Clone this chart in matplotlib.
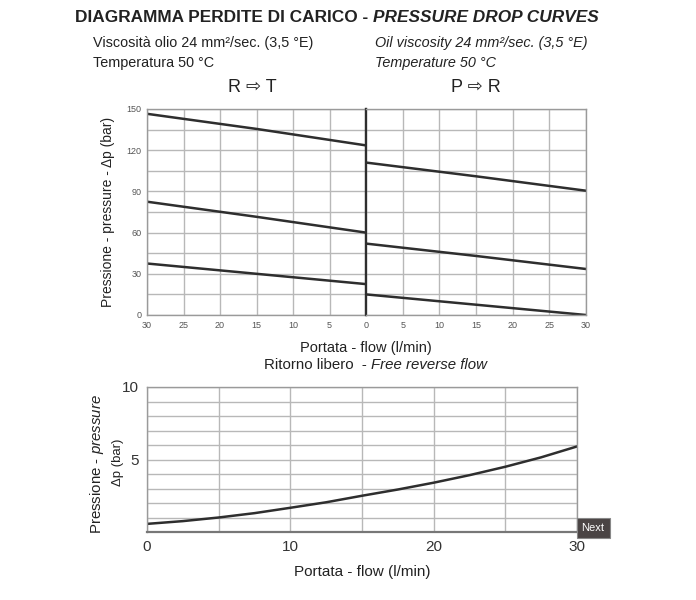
import matplotlib
matplotlib.use('Agg')
import matplotlib.pyplot as plt
from matplotlib import font_manager

# pick a narrow sans if available
names = {f.name for f in font_manager.fontManager.ttflist}
FONT = 'Liberation Sans Narrow' if 'Liberation Sans Narrow' in names else 'Liberation Sans'
plt.rcParams['font.family'] = [FONT, 'DejaVu Sans']
plt.rcParams['mathtext.fontset'] = 'custom'
plt.rcParams['mathtext.rm'] = FONT
plt.rcParams['mathtext.it'] = FONT + ':italic'

# R -> T curves (flow 30 .. 0)
rt_flow = [30, 15, 0]
rt_high = [146.5, 135.5, 123.5]
rt_mid = [82.5, 71.5, 60]
rt_low = [37.5, 30, 22.5]

# P -> R curves (flow 0 .. 30)
pr_flow = [0, 15, 30]
pr_high = [111, 101, 90.5]
pr_mid = [52, 43, 33.5]
pr_low = [15, 7.5, 0]

# free reverse flow
free_flow = [0, 2.5, 5, 7.5, 10, 12.5, 15, 17.5, 20, 22.5, 25, 27.5, 30]
free_dp = [0.56, 0.75, 1.0, 1.3, 1.67, 2.05, 2.5, 2.93, 3.4, 3.92, 4.5, 5.15, 5.9]

top_xticks_left = [30, 25, 20, 15, 10, 5, 0]
top_xticks_right = [5, 10, 15, 20, 25, 30]
top_yticks = [0, 30, 60, 90, 120, 150]

W, H = 696, 600
GRID = '#b8b8b8'
LINE = '#2e2e2e'
TXT = '#222222'
TICK = '#555555'


def fx(px):
    return px / W


def fy(py):
    return 1 - py / H


def box(x0, x1, y0, y1):
    return [fx(x0), fy(y1), fx(x1) - fx(x0), fy(y0) - fy(y1)]


def text_after(fig, first, py, second, **kw):
    # put the second piece right after the first one
    r = fig.canvas.get_renderer()
    ext = first.get_window_extent(renderer=r)
    return fig.text(ext.x1 / fig.bbox.width, fy(py), second, ha='left',
                    va='center', **kw)


fig = plt.figure(figsize=(6.96, 6.0), dpi=100)

# header
t1 = fig.text(fx(75), fy(18), 'DIAGRAMMA PERDITE DI CARICO - ', fontsize=12.4,
              fontweight='bold', color=TXT, ha='left', va='center')
text_after(fig, t1, 18, 'PRESSURE DROP CURVES', fontsize=12.4,
           fontweight='bold', style='italic', color=TXT)
fig.text(fx(93), fy(43), 'Viscosità olio 24 mm²/sec. (3,5 °E)', fontsize=10.4,
         color=TXT, ha='left', va='center')
fig.text(fx(93), fy(63), 'Temperatura 50 °C', fontsize=10.4,
         color=TXT, ha='left', va='center')
fig.text(fx(375), fy(43), 'Oil viscosity 24 mm²/sec. (3,5 °E)', fontsize=10.4,
         style='italic', color=TXT, ha='left', va='center')
fig.text(fx(375), fy(63), 'Temperature 50 °C', fontsize=10.4,
         style='italic', color=TXT, ha='left', va='center')
fig.text(fx(252), fy(87), 'R ⇨ T', fontsize=13, color=TXT,
         ha='center', va='center', family=[FONT, 'DejaVu Sans'])
fig.text(fx(476), fy(87), 'P ⇨ R', fontsize=13, color=TXT,
         ha='center', va='center', family=[FONT, 'DejaVu Sans'])


def style_axes(ax):
    ax.tick_params(length=0, labelsize=6.5, labelcolor=TICK, pad=4)
    for s in ax.spines.values():
        s.set_color('#9a9a9a')
        s.set_linewidth(1)
    ax.grid(True, color=GRID, linewidth=1)
    ax.set_axisbelow(True)


# top left: R -> T
axl = fig.add_axes(box(147, 366, 109, 315))
for ys in (rt_high, rt_mid, rt_low):
    axl.plot(rt_flow, ys, color=LINE, linewidth=1.8)
axl.set_xlim(30, 0)
axl.set_ylim(0, 150)
axl.set_xticks(top_xticks_left)
axl.set_yticks(range(0, 151, 15))
axl.set_yticklabels([str(v) if v in top_yticks else '' for v in range(0, 151, 15)])
style_axes(axl)
axl.spines['right'].set_color(LINE)
axl.spines['right'].set_linewidth(1.6)
axl.set_ylabel('Pressione - pressure - Δp (bar)', fontsize=10, color=TXT,
               labelpad=8)

# top right: P -> R
axr = fig.add_axes(box(366, 586, 109, 315))
for ys in (pr_high, pr_mid, pr_low):
    axr.plot(pr_flow, ys, color=LINE, linewidth=1.8)
axr.set_xlim(0, 30)
axr.set_ylim(0, 150)
axr.set_xticks(range(0, 31, 5))
axr.set_xticklabels([''] + [str(v) for v in top_xticks_right])
axr.set_yticks(range(0, 151, 15))
axr.set_yticklabels([])
style_axes(axr)
axr.spines['left'].set_color(LINE)
axr.spines['left'].set_linewidth(1.6)

fig.text(fx(366), fy(348), 'Portata - flow (l/min)', fontsize=10.5, color=TXT,
         ha='center', va='center')
t2 = fig.text(fx(264), fy(365), 'Ritorno libero  - ', fontsize=10.8, color=TXT,
              ha='left', va='center')
text_after(fig, t2, 365, 'Free reverse flow', fontsize=10.8, color=TXT,
           style='italic')

# bottom: free reverse flow
axb = fig.add_axes(box(147, 577, 387, 532))
axb.plot(free_flow, free_dp, color=LINE, linewidth=1.8)
axb.set_xlim(0, 30)
axb.set_ylim(0, 10)
axb.set_xticks(range(0, 31, 5))
axb.set_xticklabels(['0', '', '10', '', '20', '', '30'])
axb.set_yticks(range(0, 11))
axb.set_yticklabels(['' if v not in (5, 10) else str(v) for v in range(0, 11)])
style_axes(axb)
axb.tick_params(labelsize=11, labelcolor='#333333', pad=6)
axb.spines['bottom'].set_color('#777777')
axb.spines['bottom'].set_linewidth(1.6)
axb.set_xlabel('Portata - flow (l/min)', fontsize=11, color=TXT, labelpad=8)
fig.text(fx(97), fy(464), r'Pressione - $\it{pressure}$', fontsize=10.8,
         color=TXT, rotation=90, ha='center', va='center')
fig.text(fx(118), fy(462), 'Δp (bar)', fontsize=9.5, color=TXT,
         rotation=90, ha='center', va='center')

# screenshot overlay button
fig.text(fx(593), fy(528), 'Next', fontsize=8, color='white', ha='center',
         va='center', bbox=dict(boxstyle='square,pad=0.45', fc='#4a4444',
                                ec='#888888', lw=0.8))

fig.savefig('out.png', dpi=100)
